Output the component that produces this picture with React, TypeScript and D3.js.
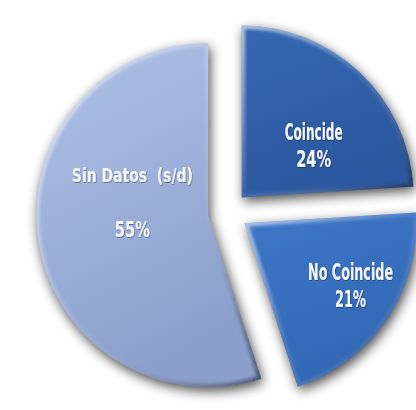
import React from "react";
import * as d3 from "d3";

// ---- data ----
const categories = ["Coincide", "No Coincide", "Sin Datos  (s/d)"];
const values = [24, 21, 55];
const percentLabels = ["24%", "21%", "55%"];

// ---- style / layout ----
const W = 416;
const H = 410;
const CX = 228;
const CY = 212;
const R = 172;
const EXPLODE = 20;

const fillTop = ["#3568b3", "#3e77c7", "#afc3e7"];
const fillBottom = ["#2a579e", "#3167b4", "#8a9fcc"];
// label block placement relative to each slice apex (angle clockwise from 12 o'clock, distance)
const labelAngleDeg = [54, 120.5, 279.7];
const labelDist = [89, 123, 77];
const lineGap = [27.5, 27, 54];
const nameSize = [23, 23, 20];
const pctSize = [23, 23, 22];
const nameLen = [58, 85, 121];
const pctLen = [35, 31, 35];
const CONDENSE = 0.72;

export default function App() {
  const pie = d3
    .pie<number>()
    .sort(null)
    .startAngle(0)
    .endAngle(2 * Math.PI)
    .value((d) => d);
  const arcs = pie(values);
  const arcGen = d3.arc<d3.PieArcDatum<number>>().innerRadius(0).outerRadius(R);

  const slices = arcs.map((a, i) => {
    const mid = (a.startAngle + a.endAngle) / 2;
    const ox = CX + Math.sin(mid) * EXPLODE;
    const oy = CY - Math.cos(mid) * EXPLODE;
    const la = (labelAngleDeg[i] * Math.PI) / 180;
    const lx = ox + Math.sin(la) * labelDist[i];
    const ly = oy - Math.cos(la) * labelDist[i];
    return { a, i, ox, oy, lx, ly, d: arcGen(a) as string };
  });

  const font = "'Liberation Sans Narrow', 'DejaVu Sans Condensed', 'Roboto', sans-serif";

  return (
    <svg
      width={W}
      height={H}
      viewBox={`0 0 ${W} ${H}`}
      style={{ position: "absolute", left: 0, top: 0, background: "#ffffff" }}
    >
      <defs>
        <filter id="shadow" x="-20%" y="-20%" width="140%" height="140%">
          <feGaussianBlur in="SourceAlpha" stdDeviation="6" />
          <feOffset dx="2" dy="4" result="b" />
          <feComponentTransfer>
            <feFuncA type="linear" slope="0.7" />
          </feComponentTransfer>
        </filter>
        <filter id="soft" x="-10%" y="-10%" width="120%" height="120%">
          <feGaussianBlur stdDeviation="1.6" />
        </filter>
        <filter id="txtshadow" x="-20%" y="-40%" width="140%" height="180%">
          <feDropShadow dx="0.6" dy="0.8" stdDeviation="0.6" floodColor="#000" floodOpacity="0.45" />
        </filter>
        {slices.map((s) => (
          <linearGradient key={"g" + s.i} id={"fill" + s.i} x1="0" y1="0" x2="0.35" y2="1">
            <stop offset="0" stopColor={fillTop[s.i]} />
            <stop offset="1" stopColor={fillBottom[s.i]} />
          </linearGradient>
        ))}
        <linearGradient id="bevel" x1="0" y1="0" x2="1" y2="1">
          <stop offset="0" stopColor="#ffffff" stopOpacity="0.6" />
          <stop offset="0.5" stopColor="#ffffff" stopOpacity="0.1" />
          <stop offset="1" stopColor="#000000" stopOpacity="0.45" />
        </linearGradient>
        {slices.map((s) => (
          <clipPath key={"c" + s.i} id={"clip" + s.i}>
            <path d={s.d} transform={`translate(${s.ox},${s.oy})`} />
          </clipPath>
        ))}
      </defs>

      {/* shadows */}
      {slices.map((s) => (
        <path
          key={"sh" + s.i}
          d={s.d}
          transform={`translate(${s.ox},${s.oy})`}
          fill="#000"
          filter="url(#shadow)"
        />
      ))}

      {/* slices */}
      {slices.map((s) => (
        <g key={"sl" + s.i}>
          <path d={s.d} transform={`translate(${s.ox},${s.oy})`} fill={`url(#fill${s.i})`} />
          <g clipPath={`url(#clip${s.i})`}>
            <path
              d={s.d}
              transform={`translate(${s.ox},${s.oy})`}
              fill="none"
              stroke="url(#bevel)"
              strokeWidth={7}
              filter="url(#soft)"
            />
          </g>
        </g>
      ))}

      {/* labels */}
      {slices.map((s) => (
        <g key={"lb" + s.i} filter="url(#txtshadow)">
          <g
            transform={`translate(${s.lx},${s.ly}) scale(${CONDENSE},1)`}
            fill="#f4f6fa"
            fontFamily={font}
            fontWeight="bold"
          >
            <text
              x={0}
              y={-lineGap[s.i] / 2}
              dy="0.36em"
              textAnchor="middle"
              fontSize={nameSize[s.i]}
              textLength={nameLen[s.i] / CONDENSE}
              lengthAdjust="spacingAndGlyphs"
              style={{ whiteSpace: "pre" }}
            >
              {categories[s.i]}
            </text>
            <text
              x={0}
              y={lineGap[s.i] / 2}
              dy="0.36em"
              textAnchor="middle"
              fontSize={pctSize[s.i]}
              textLength={pctLen[s.i] / CONDENSE}
              lengthAdjust="spacingAndGlyphs"
            >
              {percentLabels[s.i]}
            </text>
          </g>
        </g>
      ))}
    </svg>
  );
}
